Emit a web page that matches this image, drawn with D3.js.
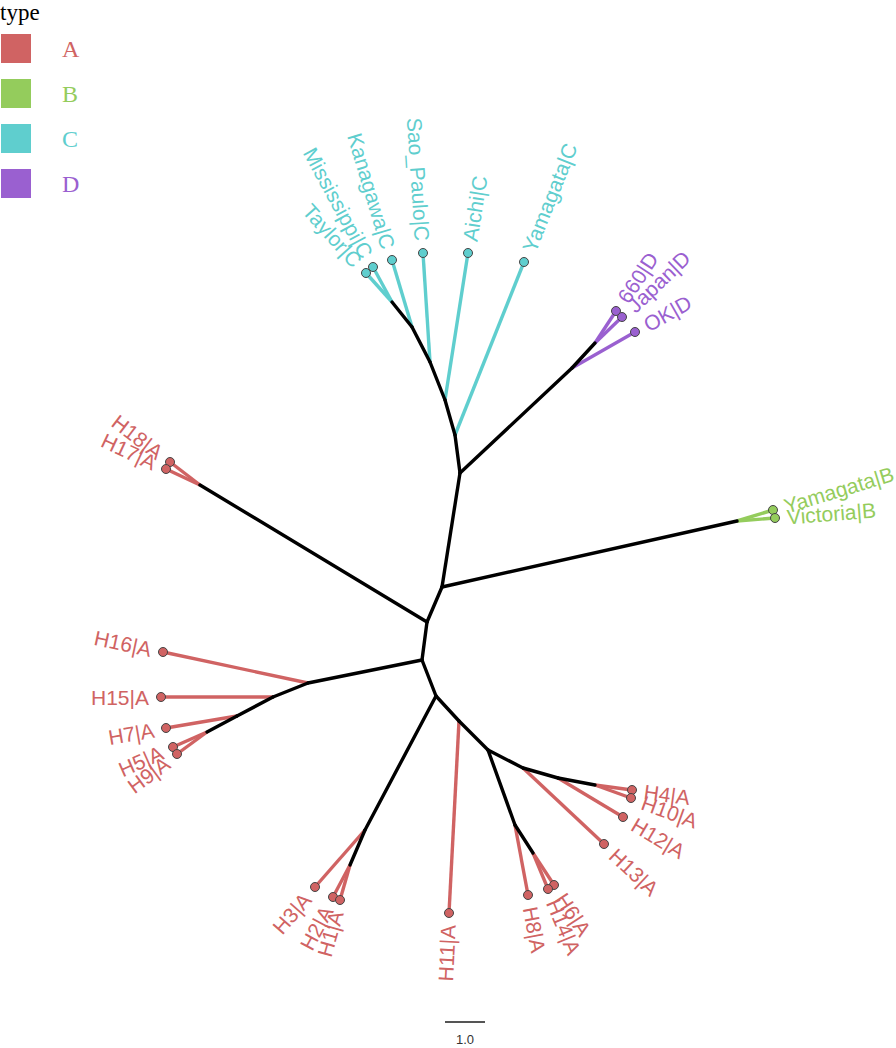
<!DOCTYPE html>
<html>
<head>
<meta charset="utf-8">
<script src="https://cdn.jsdelivr.net/npm/d3@7/dist/d3.min.js"></script>
<style>
  html, body { margin: 0; padding: 0; background: #fff; }
  svg { display: block; }
</style>
</head>
<body>
<svg id="chart" width="896" height="1048"></svg>
<script>
// ---------------- DATA (tree layout coordinates, in branch-length units) ----------------
const types = ["A", "B", "C", "D"];
const typeColors = ["#d06363", "#94cc5c", "#5fcece", "#9a60d0"];

// internal nodes
const innerNames  = ["n1","n2","n3","n4","c1","c2","c3","c4","c5","d1","d2","b1","a17",
                     "l1","l2","l3","l4","n5","h1","h2","s1","s2","r1","r2","r3","q1","q2"];
const innerParent = [null,"n1","n2","n3","n4","c1","c2","c3","c4","n4","d1","n3","n2",
                     "n1","l1","l2","l3","n1","n5","h1","n5","s1","s2","r1","r2","s2","q1"];
const innerX = [-0.45,-0.325,0.05,0.5,0.375,0.125,-0.25,-0.7,-1.2,3.3,3.875,7.425,-6.0,
                -3.3,-4.175,-5.075,-5.825,-0.1,-1.875,-2.25,0.475,1.2,2.075,2.95,3.875,1.875,2.325];
const innerY = [3.5,2.55,1.675,-1.175,-2.125,-3.0,-3.95,-4.825,-5.45,-3.8,-4.425,0.025,-0.875,
                4.075,4.425,4.9,5.3,4.4,7.75,8.625,5.025,5.75,6.2,6.45,6.625,7.625,8.325];

// tips
const tipLabels = ["Yamagata|C","Aichi|C","Sao_Paulo|C","Kanagawa|C","Mississippi|C","Taylor|C",
                   "OK|D","660|D","Japan|D","Yamagata|B","Victoria|B","H18|A","H17|A",
                   "H16|A","H15|A","H7|A","H5|A","H9|A","H3|A","H2|A","H1|A","H11|A",
                   "H13|A","H12|A","H4|A","H10|A","H8|A","H6|A","H14|A"];
const tipType   = ["C","C","C","C","C","C","D","D","D","B","B","A","A",
                   "A","A","A","A","A","A","A","A","A","A","A","A","A","A","A","A"];
const tipParent = ["c1","c2","c3","c4","c5","c5","d1","d2","d2","b1","b1","a17","a17",
                   "l1","l2","l3","l4","l4","h1","h2","h2","s1","r1","r2","r3","r3","q1","q2","q2"];
const tipX = [2.1,0.7,-0.425,-1.2,-1.675,-1.85,4.875,4.4,4.55,8.325,8.375,-6.75,-6.85,
              -6.925,-6.975,-6.85,-6.675,-6.575,-3.125,-2.675,-2.5,0.225,
              4.1,4.575,4.8,4.775,2.2,2.85,2.7];
const tipY = [-6.45,-6.675,-6.675,-6.5,-6.325,-6.175,-4.7,-5.225,-5.075,-0.25,-0.05,-1.45,-1.275,
              3.3,4.425,5.2,5.675,5.85,9.175,9.425,9.5,9.825,
              8.1,7.425,6.75,6.95,9.375,9.125,9.225];

// scale bar
const scaleBarLength = 1.0;
const scaleBarX = 0.125, scaleBarY = 12.55;
const scaleBarLabel = "1.0";

// ---------------- DRAWING ----------------
const svg = d3.select("#chart");
const unit = 40;
const x = d3.scaleLinear().domain([0, 1]).range([440, 440 + unit]);
const y = d3.scaleLinear().domain([0, 1]).range([520, 520 + unit]);
const color = d3.scaleOrdinal().domain(types).range(typeColors);

const pos = {};
innerNames.forEach((n, i) => pos[n] = {x: innerX[i], y: innerY[i]});

const innerEdges = innerNames.map((n, i) => ({p: innerParent[i], c: n})).filter(e => e.p);
const tips = tipLabels.map((l, i) => ({label: l, type: tipType[i], p: tipParent[i], x: tipX[i], y: tipY[i]}));

const g = svg.append("g");

// coloured tip edges
g.selectAll("line.tipedge").data(tips).join("line")
  .attr("class", "tipedge")
  .attr("x1", d => x(pos[d.p].x)).attr("y1", d => y(pos[d.p].y))
  .attr("x2", d => x(d.x)).attr("y2", d => y(d.y))
  .attr("stroke", d => color(d.type))
  .attr("stroke-width", 3.4)
  .attr("stroke-linecap", "butt");

// internal black edges
g.selectAll("line.inedge").data(innerEdges).join("line")
  .attr("class", "inedge")
  .attr("x1", d => x(pos[d.p].x)).attr("y1", d => y(pos[d.p].y))
  .attr("x2", d => x(pos[d.c].x)).attr("y2", d => y(pos[d.c].y))
  .attr("stroke", "#000")
  .attr("stroke-width", 3.4)
  .attr("stroke-linecap", "round");

// tip points
g.selectAll("circle.tip").data(tips).join("circle")
  .attr("class", "tip")
  .attr("cx", d => x(d.x)).attr("cy", d => y(d.y))
  .attr("r", 4.5)
  .attr("fill", d => color(d.type))
  .attr("stroke", "#444")
  .attr("stroke-width", 1);

// tip labels
const offset = 12;
g.selectAll("text.tiplab").data(tips).join("text")
  .attr("class", "tiplab")
  .each(function(d) {
    const px = x(pos[d.p].x), py = y(pos[d.p].y);
    const tx = x(d.x), ty = y(d.y);
    const dx = tx - px, dy = ty - py;
    const len = Math.hypot(dx, dy);
    const ux = dx / len, uy = dy / len;
    let ang = Math.atan2(dy, dx) * 180 / Math.PI;
    if (ang < 0) ang += 360;
    let anchor = "start";
    let rot = ang;
    if (ang > 90 && ang < 270) { rot = ang - 180; anchor = "end"; }
    const lx = tx + ux * offset, ly = ty + uy * offset;
    d3.select(this)
      .attr("x", lx).attr("y", ly)
      .attr("transform", `rotate(${rot},${lx},${ly})`)
      .attr("text-anchor", anchor)
      .attr("dominant-baseline", "central");
  })
  .attr("fill", d => color(d.type))
  .attr("font-family", "'Liberation Sans', Arial, Helvetica, sans-serif")
  .attr("font-size", 21)
  .text(d => d.label);

// scale bar
svg.append("line")
  .attr("x1", x(scaleBarX)).attr("x2", x(scaleBarX + scaleBarLength))
  .attr("y1", y(scaleBarY)).attr("y2", y(scaleBarY))
  .attr("stroke", "#555").attr("stroke-width", 2);
svg.append("text")
  .attr("x", x(scaleBarX + scaleBarLength / 2)).attr("y", y(scaleBarY) + 22)
  .attr("text-anchor", "middle")
  .attr("font-family", "'Liberation Sans', Arial, sans-serif")
  .attr("font-size", 13).attr("fill", "#333")
  .text(scaleBarLabel);

// legend
const legend = svg.append("g");
legend.append("text")
  .attr("x", 0).attr("y", 20)
  .attr("font-family", "'Liberation Serif', 'Times New Roman', serif")
  .attr("font-size", 23).attr("fill", "#000")
  .text("type");
const items = legend.selectAll("g.item").data(types).join("g").attr("class", "item")
  .attr("transform", (d, i) => `translate(0,${34 + i * 45})`);
items.append("rect")
  .attr("x", 1).attr("y", 0).attr("width", 30).attr("height", 29)
  .attr("fill", d => color(d));
items.append("text")
  .attr("x", 62).attr("y", 15)
  .attr("dominant-baseline", "central")
  .attr("font-family", "'Liberation Serif', 'Times New Roman', serif")
  .attr("font-size", 24)
  .attr("fill", d => color(d))
  .text(d => d);
</script>
</body>
</html>
